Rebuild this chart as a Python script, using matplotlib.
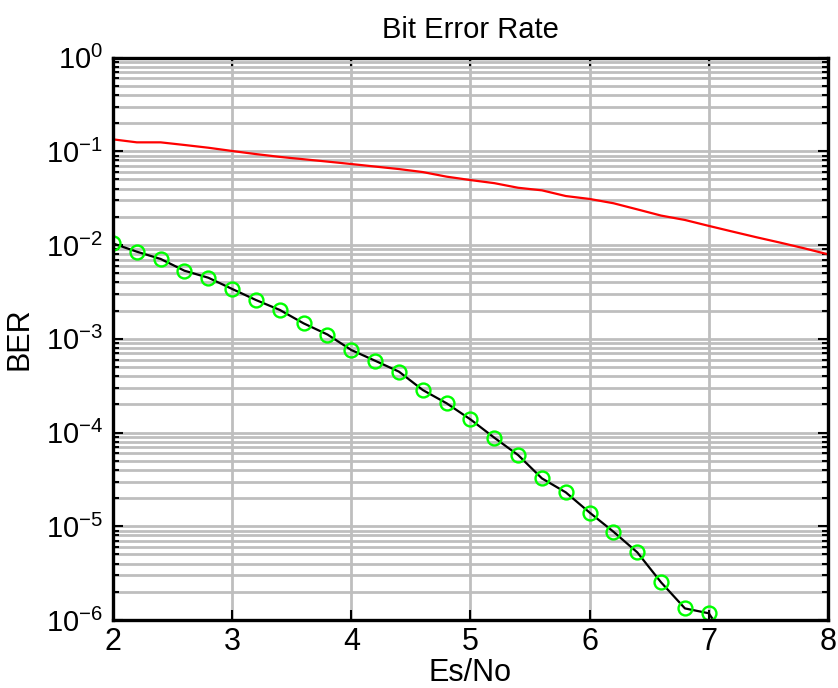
import matplotlib
matplotlib.use("Agg")
import matplotlib.pyplot as plt
from matplotlib.ticker import LogLocator, NullFormatter, FixedLocator

plt.rcParams['font.family'] = ['Liberation Sans', 'DejaVu Sans']
plt.rcParams['mathtext.default'] = 'regular'
plt.rcParams['axes.unicode_minus'] = False

# Data
es_no_ref = [2.0, 2.2, 2.4, 2.6, 2.8, 3.0, 3.2, 3.4, 3.6, 3.8, 4.0, 4.2, 4.4, 4.6, 4.8,
             5.0, 5.2, 5.4, 5.6, 5.8, 6.0, 6.2, 6.4, 6.6, 6.8, 7.0, 7.2, 7.4, 7.6, 7.8, 8.0]
ber_ref = [0.1340, 0.1245, 0.1245, 0.1167, 0.1091, 0.1007, 0.0933, 0.0871, 0.0822, 0.0776,
           0.0731, 0.0687, 0.0646, 0.0600, 0.0536, 0.0493, 0.0457, 0.0408, 0.0383, 0.0333,
           0.0310, 0.0279, 0.0240, 0.0206, 0.0185, 0.0160, 0.0139, 0.0121, 0.0106, 0.00923,
           0.00796]

es_no_sim = [2.0, 2.2, 2.4, 2.6, 2.8, 3.0, 3.2, 3.4, 3.6, 3.8, 4.0, 4.2, 4.4, 4.6, 4.8,
             5.0, 5.2, 5.4, 5.6, 5.8, 6.0, 6.2, 6.4, 6.6, 6.8, 7.0, 7.2]
ber_sim = [1.04e-2, 8.49e-3, 7.10e-3, 5.32e-3, 4.48e-3, 3.40e-3, 2.59e-3, 2.03e-3, 1.46e-3,
           1.11e-3, 7.59e-4, 5.83e-4, 4.46e-4, 2.84e-4, 2.05e-4, 1.38e-4, 8.81e-5, 5.75e-5,
           3.24e-5, 2.30e-5, 1.40e-5, 8.75e-6, 5.27e-6, 2.52e-6, 1.33e-6, 1.18e-6, 5.0e-7]

x_ticks = [2, 3, 4, 5, 6, 7, 8]
title = "Bit Error Rate"
xlabel = "Es/No"
ylabel = "BER"

fig = plt.figure(figsize=(8.38, 6.88), dpi=100)
ax = fig.add_axes([0.1348, 0.0988, 0.988 - 0.1348, 0.9164 - 0.0988])

ax.set_yscale('log')
ax.set_xlim(2, 8)
ax.set_ylim(1e-6, 1)

ax.plot(es_no_ref, ber_ref, color='#ff0000', linewidth=1.6, zorder=3)
ax.plot(es_no_sim, ber_sim, color='black', linewidth=1.6, zorder=3)
ax.plot(es_no_sim, ber_sim, linestyle='none', marker='o', markersize=10,
        markerfacecolor='none', markeredgecolor='#00ff00', markeredgewidth=1.7, zorder=4)

ax.xaxis.set_major_locator(FixedLocator(x_ticks))
ax.yaxis.set_major_locator(LogLocator(base=10, numticks=10))
ax.yaxis.set_minor_locator(LogLocator(base=10, subs=[2, 3, 4, 5, 6, 7, 8, 9], numticks=20))
ax.yaxis.set_minor_formatter(NullFormatter())

ax.grid(True, which='major', color='#bebebe', linewidth=2.0, zorder=0)
ax.grid(True, which='minor', axis='y', color='#bebebe', linewidth=2.0, zorder=0)
ax.set_axisbelow(True)

for s in ax.spines.values():
    s.set_linewidth(2.4)
    s.set_zorder(5)

ax.tick_params(which='both', direction='in', top=True, right=True, width=1.5)
ax.tick_params(axis='x', labelsize=22, pad=5)
ax.tick_params(axis='y', labelsize=21, pad=7)
ax.tick_params(which='major', length=7)
ax.tick_params(which='minor', length=4)

ax.set_title(title, fontsize=21, pad=14)
ax.set_xlabel(xlabel, fontsize=22, labelpad=1)
ax.set_ylabel(ylabel, fontsize=22, labelpad=8)

fig.savefig("out.png", dpi=100)
